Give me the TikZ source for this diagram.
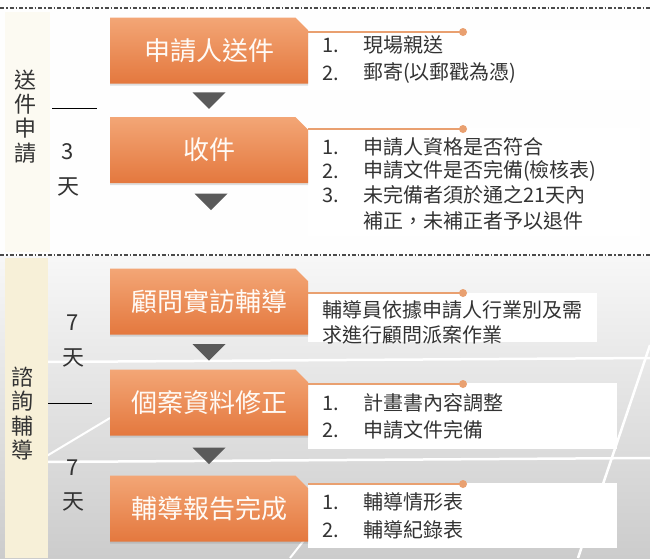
\documentclass[tikz,border=0pt]{standalone}
\usepackage{fontspec}
\setmainfont{Noto Sans CJK TC}
\usetikzlibrary{shapes.misc,calc,shadows}
\definecolor{orA}{HTML}{F3A676}
\definecolor{orB}{HTML}{E4783E}
\definecolor{txt}{HTML}{333333}
\definecolor{arr}{HTML}{5A5A5A}
\definecolor{conn}{HTML}{E9A070}
\definecolor{stripB}{HTML}{F7F0D8}
\definecolor{stripA}{HTML}{FCFAF2}
\definecolor{dashc}{HTML}{4A4A4A}
\tikzset{
  stepbox/.style={chamfered rectangle, chamfered rectangle corners=north east,
    chamfered rectangle xsep=9pt, chamfered rectangle angle=45,
    minimum width=198pt, minimum height=66pt, inner sep=0pt,
    top color=orA, bottom color=orB, draw=none,
    drop shadow={opacity=0.25, shadow xshift=0pt, shadow yshift=-2pt},
    text=white!96!orange, font=\fontsize{26}{26}\selectfont},
  item/.style={anchor=west, inner sep=0pt, text=txt, font=\fontsize{20}{24}\selectfont},
  side/.style={inner sep=0pt, text=txt, font=\fontsize{22}{24.4}\selectfont, align=center},
  sepline/.style={dashc, line width=1.3pt, dash pattern=on 4pt off 2pt on 1.5pt off 2pt},
  connline/.style={conn, line width=1.3pt},
  panel/.style={fill=white},
  rule/.style={black, line width=1pt},
  tri/.style={fill=arr}
}
\begin{document}
\begin{tikzpicture}[x=1pt,y=-1pt]
\useasboundingbox (0,0) rectangle (650,558);
% backgrounds
\fill[white!99!gray] (0,0) rectangle (650,256);
\shade[top color=gray!6, bottom color=gray!40] (0,256) rectangle (650,558);
\fill[stripA] (5,12) rectangle (50,252);
% white grid lines in lower background
\draw[white, line width=2.5pt] (40,362) -- (650,358);
\draw[white, line width=2.5pt] (40,462) -- (650,458);
\draw[white, line width=2.5pt] (650,345) -- (578,558);
\draw[white, line width=2pt] (40,460) -- (110,418);
\draw[white, line width=2pt] (290,558) -- (320,520);
\fill[stripB] (5,258) rectangle (48,558);
% separators
\draw[sepline] (0,8) -- (650,8);
\draw[sepline] (0,255) -- (650,255);

% panels
\fill[panel] (308,30) rectangle (640,90);
\fill[panel] (308,128) rectangle (640,236);
\fill[panel] (308,293) rectangle (597,342);
\fill[panel] (308,383) rectangle (617,449);
\fill[panel] (308,483) rectangle (617,548);

% boxes
\node[stepbox] (b1) at (209,50.5) {申請人送件};
\node[stepbox] (b2) at (209,150) {收件};
\node[stepbox] (b3) at (209,301.5) {顧問實訪輔導};
\node[stepbox] (b4) at (209,402.5) {個案資料修正};
\node[stepbox] (b5) at (209,508.5) {輔導報告完成};

% arrows
\path (b1.south) -- (b2.north) coordinate[midway] (m1);
\coordinate (m2) at ($(b2.south)+(2,18.5)$);
\path (b3.south) -- (b4.north) coordinate[midway] (m3);
\path (b4.south) -- (b5.north) coordinate[midway] (m4);
\foreach \m in {m1,m2,m3,m4}{
  \fill[tri] ($(\m)+(-16.5,-8)$) -- ($(\m)+(16.5,-8)$) -- ($(\m)+(0,8.5)$) -- cycle;
}

% connectors to panels
\foreach \b/\y in {b1/32,b2/129,b3/293,b4/384,b5/484}{
  \coordinate (s\b) at (\b.east |- 0,\y);
  \coordinate (e\b) at (463,\y);
  \draw[connline] (s\b) -- (e\b);
  \fill[conn] (e\b) circle (4pt);
}

% panel texts
\node[item] (n11) at (322,45) {1.};
\node[item] (t11) at (363,45) {現場親送};
\node[item] (n12) at (322,73) {2.};
\node[item] (t12) at (363,73) {郵寄(以郵戳為憑)};

\node[item] (n21) at (322,147) {1.};
\node[item] (t21) at (363,147) {申請人資格是否符合};
\node[item] (n22) at (322,171) {2.};
\node[item] (t22) at (363,171) {申請文件是否完備(檢核表)};
\node[item] (n23) at (322,195) {3.};
\node[item] (t23) at (363,195) {未完備者須於通之21天內};
\node[item] (t24) at (363,221) {補正，未補正者予以退件};

\node[item] (t31) at (322,310) {輔導員依據申請人行業別及需};
\node[item] (t32) at (322,335) {求進行顧問派案作業};

\node[item] (n41) at (322,403) {1.};
\node[item] (t41) at (363,403) {計畫書內容調整};
\node[item] (n42) at (322,430) {2.};
\node[item] (t42) at (363,430) {申請文件完備};

\node[item] (n51) at (322,502) {1.};
\node[item] (t51) at (363,502) {輔導情形表};
\node[item] (n52) at (322,530) {2.};
\node[item] (t52) at (363,530) {輔導紀錄表};

% side labels
\node[side] (L1) at (25,116.5) {送\\件\\申\\請};
\coordinate (r1a) at (52,108);
\coordinate (r1b) at (97,108);
\draw[rule] (r1a) -- (r1b);
\node[side] (d1n) at (68,152) {3};
\node[side] (d1t) at (68,187) {天};

\node[side] (L2) at (23,413.5) {諮\\詢\\輔\\導};
\coordinate (r2a) at (48,403);
\coordinate (r2b) at (92,403);
\draw[rule] (r2a) -- (r2b);
\node[side] (d2n) at (73,323) {7};
\node[side] (d2t) at (73,358) {天};
\node[side] (d3n) at (73,468) {7};
\node[side] (d3t) at (73,502) {天};
\end{tikzpicture}
\end{document}
